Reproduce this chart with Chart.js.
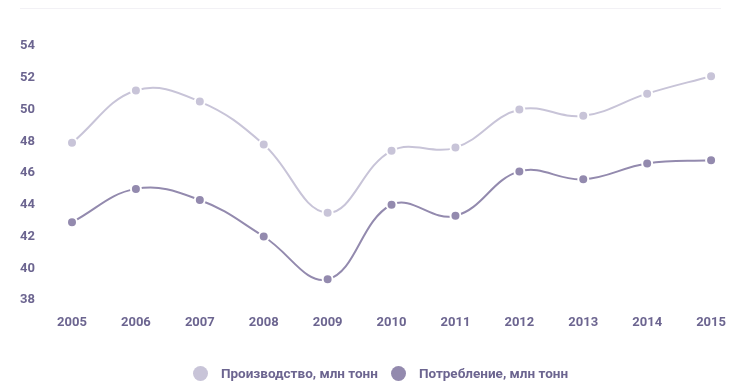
<!DOCTYPE html>
<html>
<head>
<meta charset="utf-8">
<script src="https://cdn.jsdelivr.net/npm/chart.js@4"></script>
<style>
    html, body { margin: 0; padding: 0; background: #fff; overflow: hidden; }
    .wrap { position: relative; width: 741px; height: 383px; }
    .wrap::before {
        content: ''; position: absolute; left: 20px; right: 20px; top: 8px;
        border-top: 1px solid #f2f1f5;
    }
    #legend {
        position: absolute; left: 0; right: -20px; top: 363px;
        display: flex; justify-content: center; gap: 13px;
        font-family: Roboto, sans-serif; font-size: 13.5px; font-weight: bold;
        color: #6c6590; line-height: 20px;
    }
    #legend .item { display: flex; align-items: center; }
    #legend .dot {
        width: 15px; height: 15px; border-radius: 50%; margin-right: 13px;
    }
</style>
</head>
<body>
<div class="wrap">
    <canvas id="chart" width="741" height="383"></canvas>
    <div id="legend"></div>
</div>
<script>
// Years along the x axis
const years = ['2005', '2006', '2007', '2008', '2009', '2010', '2011', '2012', '2013', '2014', '2015'];

// Million tonnes per year
const production = [47.9, 51.2, 50.5, 47.8, 43.5, 47.4, 47.6, 50.0, 49.6, 51.0, 52.1];
const consumption = [42.9, 45.0, 44.3, 42.0, 39.3, 44.0, 43.3, 46.1, 45.6, 46.6, 46.8];

// Y axis ticks
const yTicks = [38, 40, 42, 44, 46, 48, 50, 52, 54];

const labelColor = '#6c6590';
const font = { family: 'Roboto', size: 13, weight: 'bold' };

function series(label, data, color) {
    return {
        label: label,
        data: data,
        borderColor: color,
        backgroundColor: color,
        borderWidth: 2,
        tension: 0.4,
        pointRadius: 5,
        pointHoverRadius: 5,
        pointBackgroundColor: color,
        pointBorderColor: '#fff',
        pointBorderWidth: 2,
        fill: false
    };
}

const chart = new Chart(document.getElementById('chart'), {
    type: 'line',
    data: {
        labels: years,
        datasets: [
            series('Производство, млн тонн', production, '#c8c4d8'),
            series('Потребление, млн тонн', consumption, '#938aae')
        ]
    },
    options: {
        responsive: false,
        animation: false,
        layout: { padding: { top: 46, right: 29, bottom: 28, left: 0 } },
        plugins: {
            tooltip: { enabled: false },
            legend: { display: false }
        },
        scales: {
            x: {
                offset: false,
                afterFit: function(scale) { scale.height = 55; },
                grid: { display: false, drawTicks: false },
                border: { display: false },
                ticks: { color: labelColor, font: font, padding: 15, maxRotation: 0 }
            },
            y: {
                min: 38,
                max: 54,
                afterFit: function(scale) { scale.width = 72; },
                afterBuildTicks: function(scale) {
                    scale.ticks = yTicks.map(v => ({ value: v }));
                },
                grid: { display: false, drawTicks: false },
                border: { display: false },
                ticks: { color: labelColor, font: font, padding: 37 }
            }
        }
    }
});

// Legend built from the datasets
const legendEl = document.getElementById('legend');
chart.data.datasets.forEach(ds => {
    const item = document.createElement('div');
    item.className = 'item';
    const dot = document.createElement('span');
    dot.className = 'dot';
    dot.style.background = ds.borderColor;
    const text = document.createElement('span');
    text.textContent = ds.label;
    item.appendChild(dot);
    item.appendChild(text);
    legendEl.appendChild(item);
});
</script>
</body>
</html>
